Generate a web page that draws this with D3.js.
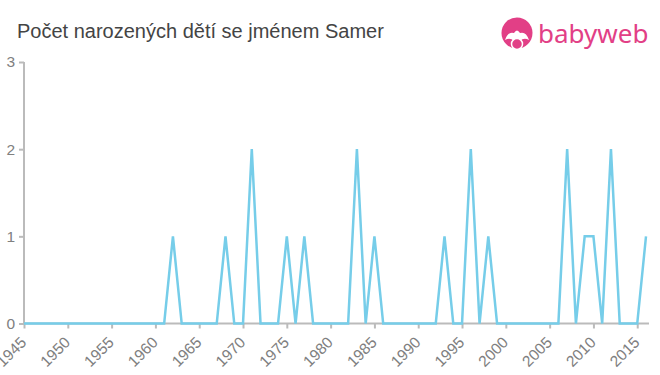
<!DOCTYPE html>
<html>
<head>
<meta charset="utf-8">
<script src="https://cdn.jsdelivr.net/npm/d3@7"></script>
<style>
  body { margin: 0; background: #fff; }
  svg { display: block; font-family: "Liberation Sans", Arial, sans-serif; }
</style>
</head>
<body>
<div id="chart"></div>
<script>
// data
const years = d3.range(1945, 2017);
const nonZero = {
  1962: 1, 1968: 1, 1971: 2, 1975: 1, 1977: 1, 1983: 2, 1985: 1,
  1993: 1, 1996: 2, 1998: 1, 2007: 2, 2009: 1, 2010: 1, 2012: 2, 2016: 1
};
const counts = years.map((y) => nonZero[y] || 0);
const xTicks = d3.range(1945, 2016, 5);
const yTicks = [0, 1, 2, 3];

const width = 660;
const height = 375;

const svg = d3
  .select("#chart")
  .append("svg")
  .attr("width", width)
  .attr("height", height);

const x = d3.scaleLinear().domain([1945, 2016]).range([24, 646]);
const y = d3.scaleLinear().domain([0, 3]).range([323.5, 62]);

// title
svg
  .append("text")
  .attr("x", 17)
  .attr("y", 38)
  .attr("fill", "#444")
  .style("font-size", "20px")
  .text("Počet narozených dětí se jménem Samer");

// logo
const logo = svg.append("g").attr("fill", "#e23f86");
logo.append("circle").attr("cx", 517).attr("cy", 33).attr("r", 15.5);
logo
  .append("path")
  .attr("fill", "#fff")
  .attr("d", "M505,40 Q508,31 514,33 Q517,28 520,33 Q526,31 529,40 Q524,37 520,41 L514,41 Q510,37 505,40 Z");
logo.append("circle").attr("cx", 517).attr("cy", 44).attr("r", 5.5).attr("fill", "#e23f86").attr("stroke", "#fff").attr("stroke-width", 1.5);
logo
  .append("text")
  .attr("x", 538)
  .attr("y", 43)
  .style("font-size", "26px")
  .style("font-family", "'Noto Sans', sans-serif")
  .text("babyweb");

// y axis
const yAxis = svg
  .append("g")
  .attr("transform", `translate(${x(1945)},0)`)
  .call(d3.axisLeft(y).tickValues(yTicks).tickFormat(d3.format("d")).tickSize(5).tickPadding(4));
yAxis.select(".domain").attr("stroke", "#bbb").attr("stroke-width", 2).attr("d", `M0,${y(3)}V${y(0)}`);
yAxis.selectAll(".tick line").attr("stroke", "#bbb").attr("stroke-width", 2);
yAxis
  .selectAll(".tick text")
  .attr("fill", "#808080")
  .style("font-size", "15.5px")
  .style("font-family", "'Liberation Sans', Arial, sans-serif");

// x axis
const xAxis = svg
  .append("g")
  .attr("transform", `translate(0,${y(0)})`)
  .call(d3.axisBottom(x).tickValues(xTicks).tickFormat(d3.format("d")).tickSize(5).tickSizeOuter(0));
xAxis.select(".domain").attr("stroke", "#bbb").attr("stroke-width", 2).attr("d", `M${x(1945)},0H649`);
xAxis.selectAll(".tick line").attr("stroke", "#bbb").attr("stroke-width", 2);
xAxis
  .selectAll(".tick text")
  .attr("fill", "#808080")
  .style("font-size", "15.5px")
  .style("font-family", "'Liberation Sans', Arial, sans-serif")
  .attr("text-anchor", "end")
  .attr("x", null)
  .attr("y", null)
  .attr("dy", "0.35em")
  .attr("transform", "translate(-1,16) rotate(-45)");

// line
const line = d3
  .line()
  .x((d, i) => x(years[i]))
  .y((d) => y(d));

svg
  .append("path")
  .datum(counts)
  .attr("fill", "none")
  .attr("stroke", "#76cde9")
  .attr("stroke-width", 2.5)
  .attr("d", line);
</script>
</body>
</html>
